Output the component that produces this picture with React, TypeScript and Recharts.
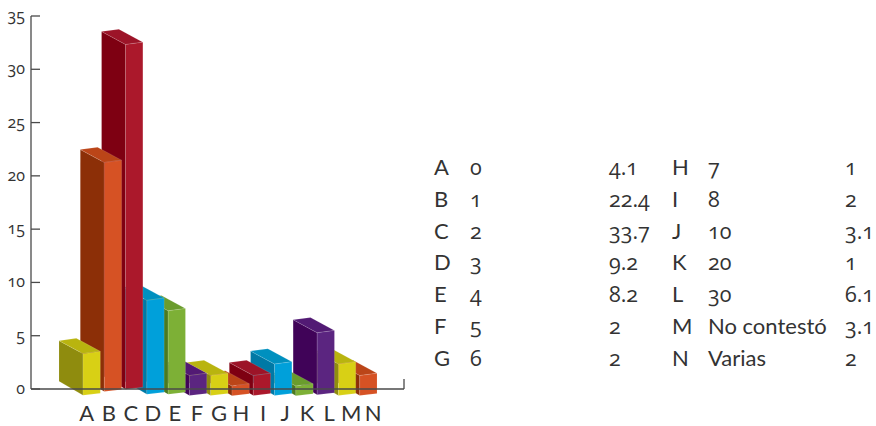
import { BarChart, Bar, XAxis, YAxis, Customized } from "recharts"

const categories = ["A", "B", "C", "D", "E", "F", "G", "H", "I", "J", "K", "L", "M", "N"]
const values = [4.1, 22.4, 33.7, 9.2, 8.2, 2, 2, 1, 2, 3.1, 1, 6.1, 3.1, 2]
const answers = ["0", "1", "2", "3", "4", "5", "6", "7", "8", "10", "20", "30", "No contestó", "Varias"]
const yTicks = [0, 5, 10, 15, 20, 25, 30, 35]

// front, side, top
const palette = [
    ["#d8d015", "#8f8c0e", "#b9b40f"],
    ["#d65224", "#8c2f07", "#bb4518"],
    ["#ab182b", "#7e0012", "#9c1428"],
    ["#00a0da", "#0079a5", "#0090bf"],
    ["#7db036", "#4b7a1f", "#6a9c2d"],
    ["#5b2580", "#400358", "#521a74"],
]

// painted right to left, so each bar overlaps the one behind it
const rows = categories
    .map((name, i) => ({ name, value: values[i], color: palette[i % palette.length] }))
    .reverse()

const FONT = "Lato, sans-serif"
const DIGITS = "'Open Sans', sans-serif"
const INK = "#333333"
const AXIS = "#4a4a4a"
const oldstyle = { fontVariantNumeric: "oldstyle-nums" }

function Box(props: any) {
    const { x, y, width, height, payload } = props
    const [front, side, top] = payload.color
    const base = y + height
    const ty = base + 7.45 - height * 0.98
    const by = base + 7 - height * 0.0188
    const r = x + width
    const edge = { stroke: "#ffffff", strokeOpacity: 0.2, strokeWidth: 0.6 }
    return (
        <g>
            <polygon
                points={`${x},${ty} ${x - 24},${ty - 13} ${x - 24},${by - 14} ${x},${by}`}
                fill={side}
                {...edge}
            />
            <polygon
                points={`${x},${ty} ${x - 24},${ty - 13} ${r - 24},${ty - 15.3} ${r},${ty - 2.3}`}
                fill={top}
                {...edge}
            />
            <polygon points={`${x},${ty} ${r},${ty - 2.3} ${r},${by - 2} ${x},${by}`} fill={front} {...edge} />
        </g>
    )
}

function YTick({ x, y, payload }: any) {
    return (
        <g>
            <line x1={x} x2={x + 9} y1={y} y2={y} stroke={AXIS} strokeWidth={1.3} />
            <text x={x - 6} y={y + 5} textAnchor="end" fontSize={16} fontFamily={DIGITS} fill={INK} style={oldstyle}>
                {payload.value}
            </text>
        </g>
    )
}

function XTick({ x, y, payload }: any) {
    const i = categories.indexOf(payload.value)
    return (
        <text x={x + (i - 6.5) * 0.75} y={y + 32} textAnchor="middle" fontSize={22} fontFamily={FONT} fill={INK}>
            {payload.value}
        </text>
    )
}

function EndCap() {
    return <path d="M404 379V389" stroke={AXIS} strokeWidth={1.3} fill="none" />
}

function Legend() {
    const columns = [
        { letter: 434, answer: 470, value: 609, from: 0 },
        { letter: 672, answer: 708, value: 845, from: 7 },
    ]
    const text = { fontSize: 22, fontFamily: FONT, fill: INK }
    const digits = { fontSize: 21.5, fontFamily: DIGITS, fill: INK, style: oldstyle }
    return (
        <svg width={876} height={426} style={{ position: "absolute", left: 0, top: 0 }}>
            {columns.map((c) =>
                [0, 1, 2, 3, 4, 5, 6].map((row) => {
                    const i = c.from + row
                    const y = 175 + row * 31.8
                    const isWord = i >= 12
                    return (
                        <g key={i}>
                            <text x={c.letter} y={y} {...text}>{categories[i]}</text>
                            <text x={c.answer} y={y} {...(isWord ? text : digits)}>{answers[i]}</text>
                            <text x={c.value} y={y} {...digits}>{values[i]}</text>
                        </g>
                    )
                })
            )}
        </svg>
    )
}

export default function App() {
    return (
        <div style={{ position: "absolute", left: 0, top: 0, width: 876, height: 426, background: "#fff" }}>
            <BarChart
                width={876}
                height={426}
                data={rows}
                margin={{ top: 16, right: 472, left: 0, bottom: 0 }}
                barSize={17.3}
            >
                <XAxis
                    dataKey="name"
                    reversed
                    interval={0}
                    height={37}
                    padding={{ left: 50, right: 25 }}
                    axisLine={{ stroke: AXIS, strokeWidth: 1.3 }}
                    tickLine={false}
                    tickSize={0}
                    tickMargin={0}
                    tick={<XTick />}
                />
                <YAxis
                    width={31}
                    domain={[0, 35]}
                    ticks={yTicks}
                    interval={0}
                    axisLine={{ stroke: AXIS, strokeWidth: 1.3 }}
                    tickLine={false}
                    tickSize={0}
                    tickMargin={0}
                    tick={<YTick />}
                />
                <Bar dataKey="value" shape={<Box />} isAnimationActive={false} />
                <Customized component={<EndCap />} />
            </BarChart>
            <Legend />
        </div>
    )
}
